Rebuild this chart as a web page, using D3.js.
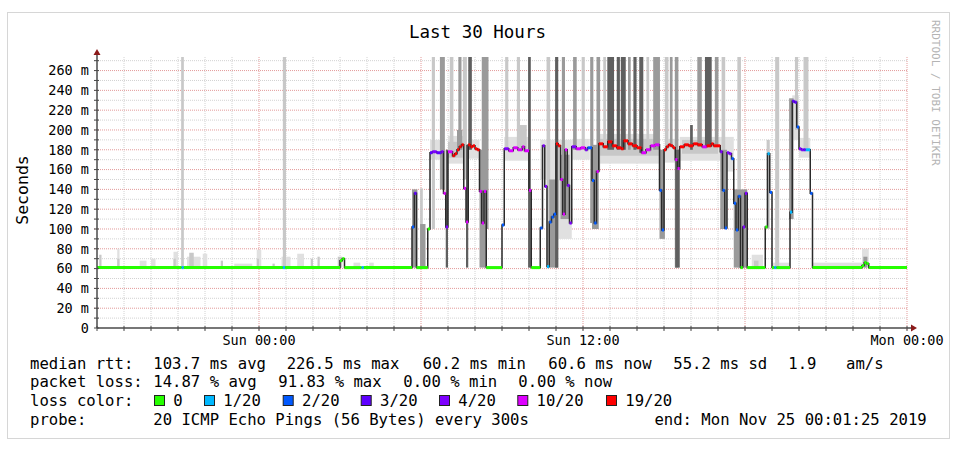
<!DOCTYPE html>
<html><head><meta charset="utf-8">
<script src="https://cdn.jsdelivr.net/npm/d3@7"></script>
<style>
body{margin:0;background:#fff}
svg{display:block}
text{font-family:"DejaVu Sans Mono",monospace}
</style>
</head><body>
<svg id="chart" width="963" height="451"></svg>
<script>
// ---------------- DATA ----------------
const titleText = "Last 30 Hours";
const yAxisLabel = "Seconds";
const watermark = "RRDTOOL / TOBI OETIKER";
const startTime = new Date(2019, 10, 23, 18, 0, 0);
const endTime = new Date(2019, 10, 25, 0, 0, 0);
const xTickHours = [6, 18, 30];
const xTickLabels = ["Sun 00:00", "Sun 12:00", "Mon 00:00"];
const yTicks = [0, 20, 40, 60, 80, 100, 120, 140, 160, 180, 200, 220, 240, 260];
const yTickLabels = ["0", "20 m", "40 m", "60 m", "80 m", "100 m", "120 m", "140 m", "160 m", "180 m", "200 m", "220 m", "240 m", "260 m"];
const yMax = 273.7;
const lossLabels = ["0", "1/20", "2/20", "3/20", "4/20", "10/20", "19/20"];
const lossColors = ["#26ff00", "#00b8ff", "#0059ff", "#5e00ff", "#7e00ff", "#dd00ff", "#ff0000"];

// median rtt: [minutes after start, ms, loss color index]; value holds until next entry
const medianSteps = [
[0,61,0],[188,61,1],[193,61,0],[413,61,1],[418,61,0],[540,68,0],[545,70,0],[550,61,0],[588,61,1],[593,61,0],
[700,102,2],[705,136,3],[710,61,0],[735,100,0],[740,177,3],[745,178,4],[755,177,3],[765,178,4],
[770,136,5],[775,102,4],[780,178,5],[790,174,6],[795,176,6],[800,180,6],[805,183,6],[810,185,6],
[815,141,5],[820,107,5],[825,185,6],[830,183,6],[835,184,6],[840,181,6],[845,180,6],
[850,138,5],[855,106,5],[860,138,5],[865,61,0],
[900,104,2],[905,181,4],[915,179,5],[925,182,5],[935,180,5],[945,183,5],[950,179,5],
[960,139,5],[965,61,0],[985,101,2],[990,184,4],[995,143,4],[1000,62,1],[1005,107,2],[1010,112,2],[1015,115,2],[1020,186,6],[1025,184,6],
[1030,150,5],[1035,115,5],[1040,180,5],[1045,144,4],[1050,106,4],[1055,183,4],[1065,181,5],[1075,182,5],[1085,180,4],[1090,182,2],
[1100,149,2],[1105,106,2],[1110,158,5],[1115,186,6],[1125,183,6],[1135,188,6],[1145,184,6],[1155,182,6],[1165,181,6],[1170,189,6],[1180,186,6],[1190,184,6],[1200,182,6],[1210,177,5],[1220,180,5],[1230,184,5],[1240,185,5],
[1250,139,2],[1255,99,2],[1260,180,6],[1265,183,6],[1270,185,6],[1275,184,6],[1280,182,6],
[1285,170,5],[1290,161,5],[1295,183,6],[1305,185,6],[1315,184,6],[1325,186,6],[1335,185,6],[1345,183,5],[1355,184,6],[1365,186,6],[1370,184,6],
[1385,178,4],[1390,139,2],[1395,101,2],[1400,177,4],[1405,176,4],[1410,171,2],
[1415,126,2],[1420,99,2],[1425,133,2],[1430,61,0],[1435,102,4],[1440,136,4],[1445,61,0],
[1485,102,0],[1490,176,1],[1495,137,2],[1500,61,0],[1505,61,1],[1510,61,0],
[1540,117,1],[1545,229,3],[1550,228,3],[1555,203,2],[1560,181,4],[1565,180,4],[1570,180,3],[1575,180,1],
[1585,136,2],[1590,61,0],[1700,63,0],[1705,66,0],[1710,65,0],[1715,61,0],[1800,61,0]
];

// smoke (ping spread): [start min, end min, low ms, high ms, density 0..3]
const smoke = [
[5,10,61,74,1],[45,50,61,80,0],[45,50,61,70,1],[95,110,61,68,0],[120,130,61,70,0],[170,180,61,77,0],[170,175,61,70,1],
[200,230,61,72,0],[205,215,61,76,1],[235,245,61,75,0],[275,280,61,68,1],[305,345,61,65,0],[355,365,61,79,0],[355,360,61,70,1],
[390,395,61,65,1],[410,430,61,72,0],[445,460,61,75,0],[475,480,61,70,1],[490,495,61,72,1],[535,545,61,72,1],[570,585,61,66,0],[605,615,61,66,0],
[187,193,61,300,1],[413,420,61,300,1],
[700,712,61,140,2],[718,724,61,141,1],[718,730,61,105,2],
[740,770,170,190,0],[780,815,166,194,0],[780,815,172,188,1],[800,812,180,200,2],[825,850,171,190,0],
[775,780,61,180,3],[820,825,61,185,3],[850,865,61,180,2],
[744,751,100,300,1],[762,773,140,300,2],[784,792,175,300,1],[803,810,180,300,2],[813,822,150,300,1],[825,833,180,300,3],[855,870,100,300,2],
[905,960,169,193,0],[940,955,180,205,1],[985,1000,150,190,0],
[1000,1055,90,190,0],[1005,1025,61,150,2],[1030,1050,110,175,2],[1055,1095,170,191,0],[1100,1115,100,185,2],
[1115,1250,166,196,0],[1115,1250,174,191,1],[1250,1262,90,180,2],[1262,1285,167,191,0],[1285,1295,61,180,3],
[1295,1385,169,193,0],[1300,1380,176,190,1],[1318,1324,180,205,3],[1385,1415,158,193,0],[1385,1400,100,180,2],[1415,1445,61,140,2],
[1455,1480,61,74,0],[1460,1470,61,68,1],[1488,1495,100,190,1],[1500,1540,61,66,0],
[1538,1548,110,232,2],[1545,1560,190,235,0],[1560,1585,172,192,0],[1590,1700,61,66,0],[1700,1715,61,80,0],[1703,1712,61,72,2],
[907,914,180,300,1],[933,940,180,300,1],[958,964,61,300,3],[999,1007,61,300,1],[1018,1025,61,300,3],[1033,1040,115,300,2],
[1058,1066,180,300,2],[1077,1084,180,300,1],[1096,1103,106,300,2],[1110,1118,158,300,2],[1125,1131,180,300,1],[1134,1149,180,300,3],
[1155,1162,180,300,3],[1164,1175,180,300,3],[1180,1186,180,300,2],[1192,1199,180,300,3],[1205,1214,177,300,3],[1221,1227,180,300,1],
[1236,1251,180,300,2],[1262,1270,180,300,1],[1273,1279,183,300,2],[1284,1292,61,300,2],[1334,1344,183,300,2],[1351,1366,183,300,3],
[1373,1381,184,300,2],[1388,1396,100,300,1],[1423,1431,61,300,1],[1507,1516,61,300,1],[1551,1558,200,300,1],[1570,1581,180,300,1]
];

// legend texts
const rttStats = ["103.7 ms avg", "226.5 ms max", "60.2 ms min", "60.6 ms now", "55.2 ms sd", "1.9", "am/s"];
const lossStats = ["14.87 % avg", "91.83 % max", "0.00 % min", "0.00 % now"];
const probeText = "20 ICMP Echo Pings (56 Bytes) every 300s";
const endText = "end: Mon Nov 25 00:01:25 2019";

// ---------------- LAYOUT ----------------
const L = 97, R = 907, T = 57, B = 328;
const svg = d3.select("#chart");
const tm = m => new Date(startTime.getTime() + m * 60000);
const x = d3.scaleTime().domain([startTime, endTime]).range([L, R]);
const y = d3.scaleLinear().domain([0, yMax]).range([B, T]);
const shade = d3.scaleOrdinal().domain([0, 1, 2, 3]).range(["#e0e0e0", "#c8c8c8", "#9a9a9a", "#5f5f5f"]);

// frame
svg.append("rect").attr("x", 7.5).attr("y", 12.5).attr("width", 942).attr("height", 426)
  .attr("fill", "#fff").attr("stroke", "#d6d6d6");

// title
svg.append("text").attr("x", 477.5).attr("y", 37.7).attr("text-anchor", "middle")
  .attr("font-size", 17.5).attr("fill", "#000").text(titleText);

// watermark
svg.append("text").attr("transform", "translate(932,20) rotate(90)")
  .attr("font-size", 11).attr("fill", "#b4b4b4").text(watermark);

// y label
svg.append("text").attr("transform", "translate(28,190) rotate(-90)").attr("text-anchor", "middle")
  .attr("font-size", 16.5).attr("fill", "#000").text(yAxisLabel);

// grid
const grid = svg.append("g");
const hours = d3.timeHour.range(startTime, new Date(endTime.getTime() + 1));
hours.forEach(h => {
  if (+h === +startTime) return;
  const major = h.getHours() % 6 === 0;
  grid.append("line").attr("x1", x(h)).attr("x2", x(h)).attr("y1", T).attr("y2", B + 3)
    .attr("stroke", major ? "#e39a9a" : "#d2d2d2").attr("stroke-dasharray", "1,1").attr("stroke-width", 1);
});
d3.range(10, 280, 10).forEach(v => {
  if (y(v) < T - 0.5) return;
  const major = v % 20 === 0;
  grid.append("line").attr("x1", L - 3).attr("x2", R).attr("y1", y(v)).attr("y2", y(v))
    .attr("stroke", major ? "#e39a9a" : "#d2d2d2").attr("stroke-dasharray", "1,1").attr("stroke-width", 1);
});

// clip
svg.append("clipPath").attr("id", "plotclip").append("rect")
  .attr("x", L).attr("y", T).attr("width", R - L).attr("height", B - T);
const plot = svg.append("g").attr("clip-path", "url(#plotclip)");

// smoke, light first
const smokeSorted = smoke.slice().sort((a, b) => a[4] - b[4]);
plot.selectAll("rect.smoke").data(smokeSorted).enter().append("rect")
  .attr("class", "smoke")
  .attr("x", d => x(tm(d[0])))
  .attr("width", d => Math.max(1, x(tm(d[1])) - x(tm(d[0]))))
  .attr("y", d => y(d[3]))
  .attr("height", d => y(d[2]) - y(d[3]))
  .attr("fill", d => shade(d[4]));

// median step line (dark)
const stepLine = d3.line().x(d => x(tm(d[0]))).y(d => y(d[1])).curve(d3.curveStepAfter);
plot.append("path").datum(medianSteps).attr("d", stepLine)
  .attr("fill", "none").attr("stroke", "#2a2a2a").attr("stroke-width", 1.5);

// median coloured by loss
const segs = medianSteps.slice(0, -1).map((d, i) => [d[0], medianSteps[i + 1][0], d[1], d[2]]);
plot.selectAll("line.med").data(segs).enter().append("line")
  .attr("x1", d => x(tm(d[0]))).attr("x2", d => x(tm(d[1])))
  .attr("y1", d => y(d[2])).attr("y2", d => y(d[2]))
  .attr("stroke", d => lossColors[d[3]]).attr("stroke-width", 3);

// axes
const axisColor = "#4a4a4a", arrowColor = "#8b1a1a";
d3.range(0, 280, 10).forEach(v => {
  if (y(v) < T - 0.5) return;
  svg.append("line").attr("x1", L - 3).attr("x2", L + 2).attr("y1", y(v)).attr("y2", y(v))
    .attr("stroke", axisColor).attr("stroke-width", 1);
});
hours.forEach(h => {
  svg.append("line").attr("x1", x(h)).attr("x2", x(h)).attr("y1", B - 2).attr("y2", B + 3)
    .attr("stroke", axisColor).attr("stroke-width", 1);
});
svg.append("line").attr("x1", L).attr("x2", R + 5).attr("y1", B).attr("y2", B)
  .attr("stroke", axisColor).attr("stroke-width", 1.5);
svg.append("line").attr("x1", L).attr("x2", L).attr("y1", B).attr("y2", T - 3)
  .attr("stroke", axisColor).attr("stroke-width", 1.5);
svg.append("path").attr("d", `M${R + 4},${B - 3.5}L${R + 10},${B}L${R + 4},${B + 3.5}Z`).attr("fill", arrowColor);
svg.append("path").attr("d", `M${L - 3.5},${T - 2}L${L},${T - 8}L${L + 3.5},${T - 2}Z`).attr("fill", arrowColor);

// y labels
svg.selectAll("text.ylab").data(yTicks).enter().append("text")
  .attr("class", "ylab").attr("x", 89).attr("y", d => y(d) + 4.8)
  .attr("text-anchor", "end").attr("font-size", 13.5).attr("fill", "#000")
  .text((d, i) => yTickLabels[i]);

// x labels
svg.selectAll("text.xlab").data(xTickHours).enter().append("text")
  .attr("class", "xlab").attr("x", d => x(tm(d * 60))).attr("y", 345)
  .attr("text-anchor", "middle").attr("font-size", 13.5).attr("fill", "#000")
  .text((d, i) => xTickLabels[i]);

// legend
const lg = svg.append("g").attr("font-size", 15.6).attr("fill", "#000");
const rows = [368.5, 387.3, 406, 424.8];
lg.append("text").attr("x", 30).attr("y", rows[0]).text("median rtt:");
const rttX = [153.3, 286.7, 422.7, 548.3, 673.3, 788.3, 846];
rttStats.forEach((s, i) => lg.append("text").attr("x", rttX[i]).attr("y", rows[0]).text(s));
lg.append("text").attr("x", 30).attr("y", rows[1]).text("packet loss:");
const lossX = [153.3, 278.3, 403.3, 518.3];
lossStats.forEach((s, i) => lg.append("text").attr("x", lossX[i]).attr("y", rows[1]).text(s));
lg.append("text").attr("x", 30).attr("y", rows[2]).text("loss color:");
const boxX = [154, 204, 282.7, 360.7, 439, 517.3, 606];
lossLabels.forEach((s, i) => {
  lg.append("rect").attr("x", boxX[i] + 0.5).attr("y", rows[2] - 10.5).attr("width", 10).attr("height", 10)
    .attr("fill", lossColors[i]).attr("stroke", "#222").attr("stroke-width", 1);
  lg.append("text").attr("x", boxX[i] + 19.3).attr("y", rows[2]).text(s);
});
lg.append("text").attr("x", 30).attr("y", rows[3]).text("probe:");
lg.append("text").attr("x", 153.3).attr("y", rows[3]).text(probeText);
lg.append("text").attr("x", 926.7).attr("y", rows[3]).attr("text-anchor", "end").text(endText);
</script>
</body></html>
